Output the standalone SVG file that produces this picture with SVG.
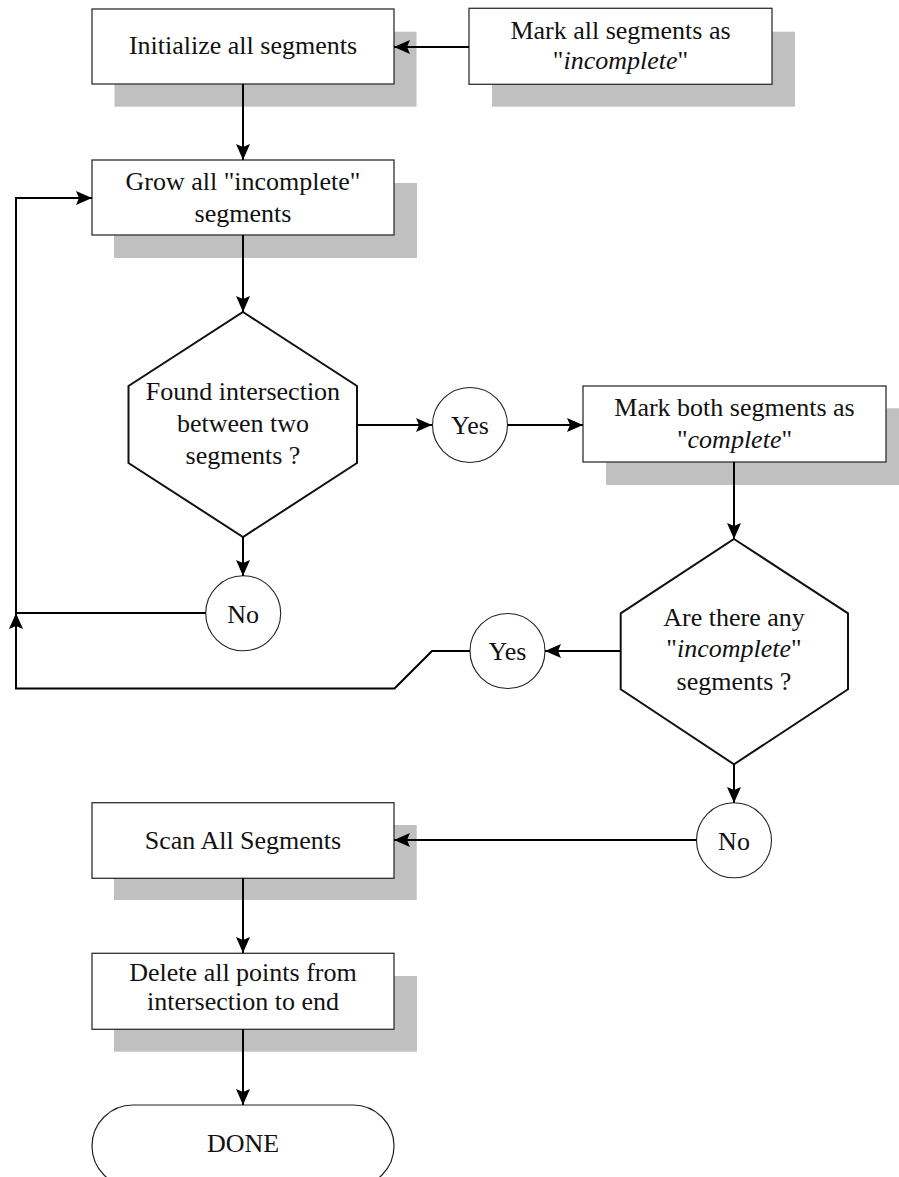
<svg xmlns="http://www.w3.org/2000/svg" width="899" height="1177" viewBox="0 0 899 1177">
  <style>
    .shadow { fill: #c0c0c0; stroke: none; }
    .box { fill: #ffffff; stroke: #303030; stroke-width: 1.3; }
    .hex { fill: #ffffff; stroke: #111111; stroke-width: 2; }
    .circ { fill: #ffffff; stroke: #222222; stroke-width: 1.1; }
    .term { fill: #ffffff; stroke: #222222; stroke-width: 1.2; }
    .lbl { font-family: "Liberation Serif", "Times New Roman", serif; font-size: 26px; fill: #111111; text-anchor: middle; }
    .it { font-style: italic; }
    .conn { fill: none; stroke: #000000; stroke-width: 2; }
  </style>
  <defs>
    <marker id="arrow" markerUnits="userSpaceOnUse" markerWidth="17" markerHeight="15" refX="16" refY="7" orient="auto">
      <path d="M0,0 L16,7 L0,14 L3,7 z" fill="#000000"/>
    </marker>
  </defs>

  <rect width="899" height="1177" fill="#ffffff"/>

  <!-- process boxes -->
  <g id="init">
    <rect class="shadow" x="114.5" y="31.7" width="302" height="75"/>
    <rect class="box" x="92" y="9" width="302" height="75"/>
    <text class="lbl" x="243" y="54">Initialize all segments</text>
  </g>

  <g id="mark-incomplete">
    <rect class="shadow" x="492" y="31.7" width="303" height="75"/>
    <rect class="box" x="469" y="8.3" width="303" height="76"/>
    <text class="lbl" x="620.5" y="38.5">Mark all segments as</text>
    <text class="lbl" x="620.5" y="68.5">"<tspan class="it">incomplete</tspan>"</text>
  </g>

  <g id="grow">
    <rect class="shadow" x="114" y="183" width="303" height="75"/>
    <rect class="box" x="92" y="160" width="302" height="75"/>
    <text class="lbl" x="243" y="189.5">Grow all "incomplete"</text>
    <text class="lbl" x="243" y="221.5">segments</text>
  </g>

  <g id="found-intersection">
    <polygon class="hex" points="243,312 357,386 357,463 243,537 128.5,463 128.5,386"/>
    <text class="lbl" x="243" y="400">Found intersection</text>
    <text class="lbl" x="243" y="432">between two</text>
    <text class="lbl" x="243" y="464">segments ?</text>
  </g>

  <g id="yes-found">
    <circle class="circ" cx="470" cy="425" r="37.5"/>
    <text class="lbl" x="470" y="434">Yes</text>
  </g>

  <g id="mark-complete">
    <rect class="shadow" x="606" y="408.3" width="303" height="76.7"/>
    <rect class="box" x="583" y="386" width="303" height="76"/>
    <text class="lbl" x="734.5" y="416">Mark both segments as</text>
    <text class="lbl" x="734.5" y="447.5">"<tspan class="it">complete</tspan>"</text>
  </g>

  <g id="no-found">
    <circle class="circ" cx="243.2" cy="613.3" r="37.5"/>
    <text class="lbl" x="243.2" y="622.5">No</text>
  </g>

  <g id="any-incomplete">
    <polygon class="hex" points="734,539 848,613.3 848,689.3 734,764.3 620.7,689.3 620.7,613.3"/>
    <text class="lbl" x="734" y="626">Are there any</text>
    <text class="lbl" x="734" y="657">"<tspan class="it">incomplete</tspan>"</text>
    <text class="lbl" x="734" y="690">segments ?</text>
  </g>

  <g id="yes-incomplete">
    <circle class="circ" cx="507.5" cy="651" r="37.5"/>
    <text class="lbl" x="507.5" y="660">Yes</text>
  </g>

  <g id="no-incomplete">
    <circle class="circ" cx="734" cy="840.3" r="37.5"/>
    <text class="lbl" x="734" y="849.5">No</text>
  </g>

  <g id="scan">
    <rect class="shadow" x="114" y="825" width="302.7" height="75"/>
    <rect class="box" x="92" y="802.7" width="302" height="75.6"/>
    <text class="lbl" x="243" y="848.5">Scan All Segments</text>
  </g>

  <g id="delete">
    <rect class="shadow" x="114" y="976" width="303" height="75.7"/>
    <rect class="box" x="92" y="953.3" width="302" height="76"/>
    <text class="lbl" x="243" y="980.5">Delete all points from</text>
    <text class="lbl" x="243" y="1009.5">intersection to end</text>
  </g>

  <g id="done">
    <rect class="term" x="92" y="1105" width="302" height="82" rx="41" ry="41"/>
    <text class="lbl" x="243" y="1152">DONE</text>
  </g>

  <!-- connectors, drawn over the drop shadows -->
  <g id="connectors">
    <path class="conn" d="M469,47 H394" marker-end="url(#arrow)"/>
    <path class="conn" d="M243,84 V160" marker-end="url(#arrow)"/>
    <path class="conn" d="M243,235 V312" marker-end="url(#arrow)"/>
    <path class="conn" d="M357,425 H432" marker-end="url(#arrow)"/>
    <path class="conn" d="M507.5,425 H583" marker-end="url(#arrow)"/>
    <path class="conn" d="M734,462 V539" marker-end="url(#arrow)"/>
    <path class="conn" d="M243,537 V576" marker-end="url(#arrow)"/>
    <path class="conn" d="M205.7,613 H16 V198 H92" marker-end="url(#arrow)"/>
    <path class="conn" d="M620.7,651 H545" marker-end="url(#arrow)"/>
    <path class="conn" d="M470,651 H432 L394.5,688.5 H16 V613" marker-end="url(#arrow)"/>
    <path class="conn" d="M734,764 V803" marker-end="url(#arrow)"/>
    <path class="conn" d="M696.5,840 H394" marker-end="url(#arrow)"/>
    <path class="conn" d="M243,878 V953" marker-end="url(#arrow)"/>
    <path class="conn" d="M243,1029 V1105" marker-end="url(#arrow)"/>
  </g>
</svg>
